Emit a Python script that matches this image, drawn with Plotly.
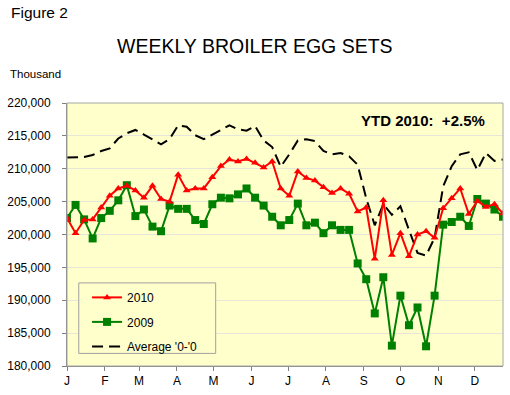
import pandas as pd
import plotly.graph_objects as go

# ---- data (thousand eggs) ----
series_2010 = [202500, 200200, 202200, 202300, 204100, 205900, 207000, 207400, 206700, 205600,
               207400, 205400, 205000, 209100, 206700, 207000, 207000, 208700, 210400, 211400,
               211100, 211500, 210900, 210200, 211100, 207000, 205900, 209600, 208600, 208200,
               207200, 206300, 207000, 206200, 203500, 204100, 196300, 205200, 196900, 200200,
               196700, 200000, 200500, 199500, 204000, 205500, 207000, 203100, 205100, 204200,
               204600, 203200]
series_2009 = [202500, 204500, 202300, 199400, 202500, 203600, 205200, 207500, 202800, 203800,
               201200, 200500, 204400, 203900, 203900, 202200, 201600, 204600, 205600, 205500,
               206100, 207000, 205600, 204400, 202700, 201400, 202200, 204700, 201400, 201800,
               200200, 201400, 200700, 200700, 195600, 193200, 188000, 193500, 183100, 190700,
               186200, 188900, 183000, 190700, 201500, 201900, 202700, 201300, 205400, 204700,
               203800, 202700]
series_avg = [211700, 211700, 211800, 212100, 212700, 213100, 214600, 215400, 215900, 215200,
              214500, 213700, 214500, 216600, 216400, 215100, 214500, 215200, 215800, 216600,
              216000, 215800, 216500, 214300, 213300, 210300, 212200, 214300, 214500, 214200,
              212700, 212200, 212400, 211900, 210600, 205500, 201400, 204600, 203000, 204300,
              200700, 197200, 196800, 199500, 207300, 210400, 212200, 212500, 209800, 212400,
              211200, 211400]
series_names = ["2010", "2009", "Average '0-'0"]
month_labels = ["J", "F", "M", "A", "M", "J", "J", "A", "S", "O", "N", "D"]
ytd_text = "YTD 2010:  +2.5%"

weeks = pd.date_range("2010-01-01", periods=len(series_2010), freq="7D")
month_starts = pd.date_range("2010-01-01", periods=12, freq="MS")

FONT = "Liberation Sans, Arial, sans-serif"

fig = go.Figure()
fig.add_trace(go.Scatter(
    x=weeks, y=series_avg, name=series_names[2], mode="lines",
    legendgroup="g3", legendrank=3,
    line=dict(color="black", width=2, dash="11px,6px")))
fig.add_trace(go.Scatter(
    x=weeks, y=series_2009, name=series_names[1], mode="lines+markers",
    legendgroup="g2", legendrank=2,
    line=dict(color="#008000", width=2),
    marker=dict(symbol="square", size=8, color="#008000")))
fig.add_trace(go.Scatter(
    x=weeks, y=series_2010, name=series_names[0], mode="lines+markers",
    legendgroup="g1", legendrank=1,
    line=dict(color="#FF0000", width=2),
    marker=dict(symbol="triangle-up", size=7, color="#FF0000")))

fig.update_layout(
    width=510, height=395,
    margin=dict(l=66, r=7, t=103, b=25),
    paper_bgcolor="white",
    plot_bgcolor="#FFFFCC",
    font=dict(family=FONT, size=12, color="black"),
    showlegend=True,
    legend=dict(
        x=0.046, y=0.316, xanchor="left", yanchor="top",
        bgcolor="rgba(0,0,0,0)", borderwidth=0,
        traceorder="grouped", tracegroupgap=5.5,
        font=dict(family=FONT, size=12, color="black"),
        itemwidth=30,
    ),
    xaxis=dict(
        range=[weeks[0], weeks[-1]],
        tickmode="array", tickvals=month_starts, ticktext=month_labels,
        ticks="outside", ticklen=4, tickcolor="#808080",
        showline=True, linecolor="#808080", linewidth=1,
        showgrid=False, zeroline=False,
        tickfont=dict(size=12),
    ),
    yaxis=dict(
        range=[180000, 220000], dtick=5000, tickformat=",",
        ticks="outside", ticklen=4, tickcolor="#808080",
        showline=True, linecolor="#808080", linewidth=1,
        showgrid=True, gridcolor="#E6E6DA", gridwidth=1,
        zeroline=False, ticklabelstandoff=9,
        tickfont=dict(size=12),
    ),
    shapes=[
        # plot frame (top/right border)
        dict(type="rect", xref="paper", yref="paper", x0=0, x1=1, y0=0, y1=1,
             line=dict(color="#A6A6A6", width=1), layer="above"),
        # legend box
        dict(type="rect", xref="paper", yref="paper", x0=0.027, x1=0.341, y0=0.048, y1=0.316,
             line=dict(color="#A0A0A0", width=1), fillcolor="#FFFFCC", layer="above"),
    ],
    annotations=[
        dict(text="Figure 2", xref="paper", yref="paper", x=-58 / 437, y=1 + (103 - 11) / 267,
             xanchor="left", yanchor="middle", showarrow=False,
             font=dict(size=15.5, family=FONT)),
        dict(text="WEEKLY BROILER EGG SETS", xref="paper", yref="paper",
             x=(254 - 66) / 437, y=1 + (103 - 45) / 267,
             xanchor="center", yanchor="middle", showarrow=False,
             font=dict(size=19.5, family=FONT)),
        dict(text="Thousand", xref="paper", yref="paper", x=-59 / 437, y=1 + (103 - 74) / 267,
             xanchor="left", yanchor="middle", showarrow=False,
             font=dict(size=11.5, family=FONT)),
        dict(text="<b>" + ytd_text + "</b>", xref="paper", yref="paper",
             x=(423 - 66) / 437, y=(370 - 121) / 267,
             xanchor="center", yanchor="middle", showarrow=False,
             font=dict(size=15, family=FONT)),
    ],
)

fig.write_html("out.html", config={"displayModeBar": False},
               post_script="document.body.style.margin='0';document.body.style.padding='0';")
